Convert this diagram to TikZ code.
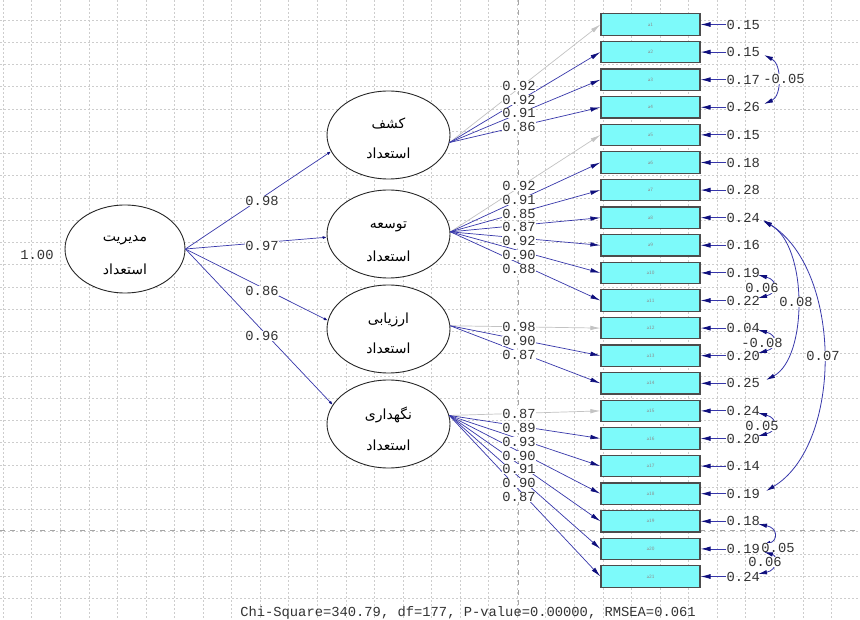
\documentclass[tikz,border=0pt]{standalone}
\usepackage{fontspec}
\setmonofont{Liberation Mono}
\newfontfamily\arabicfont[Script=Arabic]{DejaVu Sans}
\TeXXeTstate=1
\usetikzlibrary{arrows.meta,shapes.geometric}
\definecolor{boxcyan}{RGB}{125,250,250}
\definecolor{pathblue}{RGB}{55,55,170}
\definecolor{tipblue}{RGB}{15,15,125}
\definecolor{gridgray}{RGB}{205,205,205}
\definecolor{fixgray}{RGB}{195,195,195}
\begin{document}
\begin{tikzpicture}[x=1pt,y=-1pt,
  gridline/.style={draw=gridgray, line width=0.6pt, dash pattern=on 2pt off 2pt},
  divider/.style={draw=black!35, line width=0.7pt, dash pattern=on 5pt off 5pt},
  obs/.style={draw=black!70, line width=1.2pt, fill=boxcyan, minimum width=99pt, minimum height=21.5pt, inner sep=0pt, font=\fontsize{5}{5}\selectfont\sffamily, text=black!45},
  lat/.style={ellipse, draw=black!85, line width=0.9pt, fill=white, minimum width=123pt, minimum height=88pt, inner sep=0pt},
  ptxt/.style={font=\arabicfont\fontsize{14}{14}\selectfont, text=black, inner sep=0pt},
  num/.style={font=\fontsize{13.8}{14}\selectfont\ttfamily, text=black!80, inner sep=0.5pt},
  lbl/.style={num, fill=white},
  struct/.style={draw=pathblue, line width=0.7pt, -{Latex[length=4pt,width=3pt,color=tipblue]}},
  load/.style={draw=pathblue, line width=0.7pt, -{Latex[length=10pt,width=4.5pt,color=tipblue]}},
  fixed/.style={draw=fixgray, line width=0.7pt, -{Latex[length=10pt,width=4.5pt,color=fixgray]}},
  err/.style={draw=pathblue, line width=0.8pt, -{Latex[length=10pt,width=5pt,color=tipblue]}},
  cov/.style={draw=pathblue, line width=0.8pt, {Latex[length=9pt,width=4.5pt,color=tipblue]}-{Latex[length=9pt,width=4.5pt,color=tipblue]}}
]
\useasboundingbox[fill=white] (0,0) rectangle (860,620);
% grid
\foreach \k in {-1,...,29} \draw[gridline] ({31.7+28.56*\k},0) -- ++(0,620);
\foreach \k in {0,...,26} \draw[gridline] (0,{20+22.25*\k}) -- ++(860,0);
\draw[divider] (518,0) -- (518,620);
\draw[divider] (0,530) -- (860,530);

% observed boxes
\foreach \i in {1,...,21}
  \node[obs] (a\i) at (650.5,{24.5+27.6*(\i-1)}) {a\i};

% latent variables
\node[lat, minimum width=120pt] (M) at (125,249) {};
\node[ptxt] (Ma) at (125,240) {\beginR مدیریت\endR};
\node[ptxt] (Mb) at (125,269) {\beginR استعداد\endR};
\node[num] (Mv) at (37,255) {1.00};

\node[lat] (L1) at (388.5,135) {};
\node[ptxt] (L1a) at (388.5,123) {\beginR کشف\endR};
\node[ptxt] (L1b) at (388.5,153) {\beginR استعداد\endR};
\node[lat] (L2) at (388.5,234) {};
\node[ptxt] (L2a) at (388.5,227) {\beginR توسعه\endR};
\node[ptxt] (L2b) at (388.5,256) {\beginR استعداد\endR};
\node[lat] (L3) at (388.5,329) {};
\node[ptxt] (L3a) at (388.5,320) {\beginR ارزیابی\endR};
\node[ptxt] (L3b) at (388.5,348) {\beginR استعداد\endR};
\node[lat] (L4) at (388.5,424) {};
\node[ptxt] (L4a) at (388.5,415) {\beginR نگهداری\endR};
\node[ptxt] (L4b) at (388.5,445) {\beginR استعداد\endR};

% structural paths
\draw[struct] (M.east) -- (L1.196);
\draw[struct] (M.east) -- (L2.183);
\draw[struct] (M.east) -- (L3.172);
\draw[struct] (M.east) -- (L4.161);
\node[lbl] (s1) at (262,201) {0.98};
\node[lbl] (s2) at (262,246) {0.97};
\node[lbl] (s3) at (262,291) {0.86};
\node[lbl] (s4) at (262,336) {0.96};

% loadings
\draw[fixed] (L1.-7) -- (a1.west);
\foreach \i in {2,3,4} \draw[load] (L1.-7) -- (a\i.west);
\draw[fixed] (L2.2) -- (a5.west);
\foreach \i in {6,...,11} \draw[load] (L2.2) -- (a\i.west);
\draw[fixed] (L3.3) -- (a12.west);
\foreach \i in {13,14} \draw[load] (L3.3) -- (a\i.west);
\draw[fixed] (L4.8) -- (a15.west);
\foreach \i in {16,...,21} \draw[load] (L4.8) -- (a\i.west);

\foreach \i/\v/\y in {1/0.92/86,2/0.92/100,3/0.91/113,4/0.86/127,
  5/0.92/186,6/0.91/200,7/0.85/214,8/0.87/227,9/0.92/241,10/0.90/255,11/0.88/269,
  12/0.98/327,13/0.90/341,14/0.87/355,
  15/0.87/414,16/0.89/428,17/0.93/442,18/0.90/456,19/0.91/469,20/0.90/483,21/0.87/497}
  \node[lbl] (g\i) at (519,\y) {\v};

% error variances
\foreach \i/\v in {1/0.15,2/0.15,3/0.17,4/0.26,5/0.15,6/0.18,7/0.28,8/0.24,9/0.16,10/0.19,11/0.22,
  12/0.04,13/0.20,14/0.25,15/0.24,16/0.20,17/0.14,18/0.19,19/0.18,20/0.19,21/0.24}{
  \node[num, anchor=west] (v\i) at (726,{24.5+27.6*(\i-1)}) {\v};
  \draw[err] (v\i.west) -- (a\i.east);
}

% error covariances
\coordinate (c1s) at (764,55);  \coordinate (c1e) at (764,104);
\draw[cov] (c1s) .. controls (782,64) and (782,96) .. (c1e);
\node[lbl] (c1) at (784,79) {-0.05};

\coordinate (c2s) at (763,221); \coordinate (c2e) at (766,380);
\draw[cov] (c2s) .. controls (808,245) and (808,358) .. (c2e);
\node[lbl] (c2) at (796,302) {0.08};

\coordinate (c3s) at (763,220); \coordinate (c3e) at (766,491);
\draw[cov] (c3s) .. controls (843,270) and (843,445) .. (c3e);
\node[lbl] (c3) at (823,356) {0.07};

\coordinate (c4s) at (758,275); \coordinate (c4e) at (758,298);
\draw[cov] (c4s) .. controls (778,280) and (778,293) .. (c4e);
\node[lbl] (c4) at (762,288) {0.06};

\coordinate (c5s) at (758,330); \coordinate (c5e) at (758,353);
\draw[cov] (c5s) .. controls (778,335) and (778,348) .. (c5e);
\node[lbl] (c5) at (762,343) {-0.08};

\coordinate (c6s) at (758,413); \coordinate (c6e) at (758,436);
\draw[cov] (c6s) .. controls (778,418) and (778,431) .. (c6e);
\node[lbl] (c6) at (762,426) {0.05};

\coordinate (c7s) at (758,524); \coordinate (c7e) at (762,546);
\draw[cov] (c7s) .. controls (778,528) and (778,540) .. (c7e);
\node[lbl] (c7) at (778,548) {0.05};

\coordinate (c8s) at (764,552); \coordinate (c8e) at (758,574);
\draw[cov] (c8s) .. controls (778,556) and (778,570) .. (c8e);
\node[lbl] (c8) at (765,562) {0.06};

% fit statistics
\node[num] (fit) at (468,613) {Chi-Square=340.79, df=177, P-value=0.00000, RMSEA=0.061};
\end{tikzpicture}
\end{document}
